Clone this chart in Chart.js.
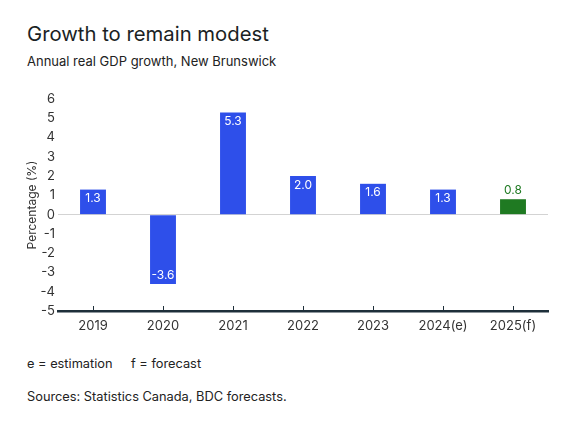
<!DOCTYPE html>
<html>
<head>
<meta charset="utf-8">
<script src="https://cdn.jsdelivr.net/npm/chart.js@4"></script>
<style>
  body { margin: 0; width: 575px; height: 431px; background: #fff; font-family: Inter, sans-serif; color: #222; position: relative; overflow: hidden; }
  .txt { position: absolute; left: 27px; line-height: 1; white-space: pre; }
  #title { top: 24px; font-size: 20.3px; color: #1b1f24; }
  #subtitle { top: 55px; font-size: 13px; color: #222; }
  #note1, #note2 { top: 358px; font-size: 12.8px; }
  #note2 { left: 131px; }
  #source { top: 391px; font-size: 12.8px; }
  #wrap { position: absolute; left: 0; top: 85px; width: 575px; height: 260px; }
</style>
</head>
<body>
<div class="txt" id="title">Growth to remain modest</div>
<div class="txt" id="subtitle">Annual real GDP growth, New Brunswick</div>
<div id="wrap"><canvas id="gdp-chart"></canvas></div>
<div class="txt" id="note1">e = estimation</div>
<div class="txt" id="note2">f = forecast</div>
<div class="txt" id="source">Sources: Statistics Canada, BDC forecasts.</div>

<script>
////
///////////////////// Data /////////////////////
////

const years = ["2019", "2020", "2021", "2022", "2023", "2024(e)", "2025(f)"];
const growth = [1.3, -3.6, 5.3, 2.0, 1.6, 1.3, 0.8];
const isForecast = [false, false, false, false, false, false, true];

const blue = '#2e4fea';
const green = '#1f7a22';

////
///////////////////// Plugins /////////////////////
////

// value labels: white inside the bar, green above the forecast bar
const valueLabels = {
    id: 'valueLabels',
    afterDatasetsDraw(chart) {
        const ctx = chart.ctx;
        const meta = chart.getDatasetMeta(0);
        ctx.save();
        ctx.font = '12px Inter, sans-serif';
        ctx.textAlign = 'center';
        ctx.textBaseline = 'middle';
        meta.data.forEach((bar, i) => {
            const v = growth[i];
            let y;
            if (isForecast[i]) {
                ctx.fillStyle = green;
                y = bar.y - 9;
            } else {
                ctx.fillStyle = '#fff';
                y = v >= 0 ? bar.y + 9 : bar.y - 9;
            }
            ctx.fillText(v.toFixed(1), bar.x, y);
        });
        ctx.restore();
    }
};

// small tick marks sitting on top of the x axis line
const axisTicks = {
    id: 'axisTicks',
    afterDraw(chart) {
        const ctx = chart.ctx;
        const x = chart.scales.x;
        ctx.save();
        ctx.strokeStyle = '#1e2f3a';
        ctx.lineWidth = 1;
        for (let i = 0; i < years.length; i++) {
            const px = Math.round(x.getPixelForTick(i)) + 0.5;
            ctx.beginPath();
            ctx.moveTo(px, x.top - 5);
            ctx.lineTo(px, x.top);
            ctx.stroke();
        }
        ctx.restore();
    }
};

////
///////////////////// Chart /////////////////////
////

const gdpCanvas = document.getElementById("gdp-chart");

let gdpChart = new Chart(gdpCanvas, {
    type: 'bar',
    data: {
        labels: years,
        datasets: [{
            data: growth,
            backgroundColor: isForecast.map(f => f ? green : blue),
            borderWidth: 0,
            barPercentage: 0.74,
            categoryPercentage: 0.5
        }]
    },
    options: {
        responsive: true,
        maintainAspectRatio: false,
        animation: { duration: 0 },
        layout: {
            padding: { top: 14, right: 27, left: 0, bottom: 0 }
        },
        plugins: {
            legend: { display: false },
            tooltip: { enabled: false }
        },
        scales: {
            x: {
                grid: { display: false, drawTicks: false },
                border: { display: true, color: '#1e2f3a', width: 2.5 },
                ticks: {
                    color: '#333',
                    padding: 7,
                    maxRotation: 0,
                    font: { family: 'Inter, sans-serif', size: 13 }
                },
                afterFit(scale) { scale.height = 34; }
            },
            y: {
                min: -5,
                max: 6,
                ticks: {
                    stepSize: 1,
                    color: '#333',
                    padding: 3,
                    font: { family: 'Inter, sans-serif', size: 13 }
                },
                grid: {
                    drawTicks: false,
                    color: c => c.tick && c.tick.value === 0 ? '#d3d3d3' : 'rgba(0,0,0,0)',
                    lineWidth: 1
                },
                border: { display: false },
                title: {
                    display: true,
                    text: 'Percentage (%)',
                    color: '#333',
                    padding: { top: 25, bottom: 0 },
                    font: { family: 'Inter, sans-serif', size: 12 }
                },
                afterFit(scale) { scale.width = 58; }
            }
        }
    },
    plugins: [valueLabels, axisTicks]
});
</script>
</body>
</html>
